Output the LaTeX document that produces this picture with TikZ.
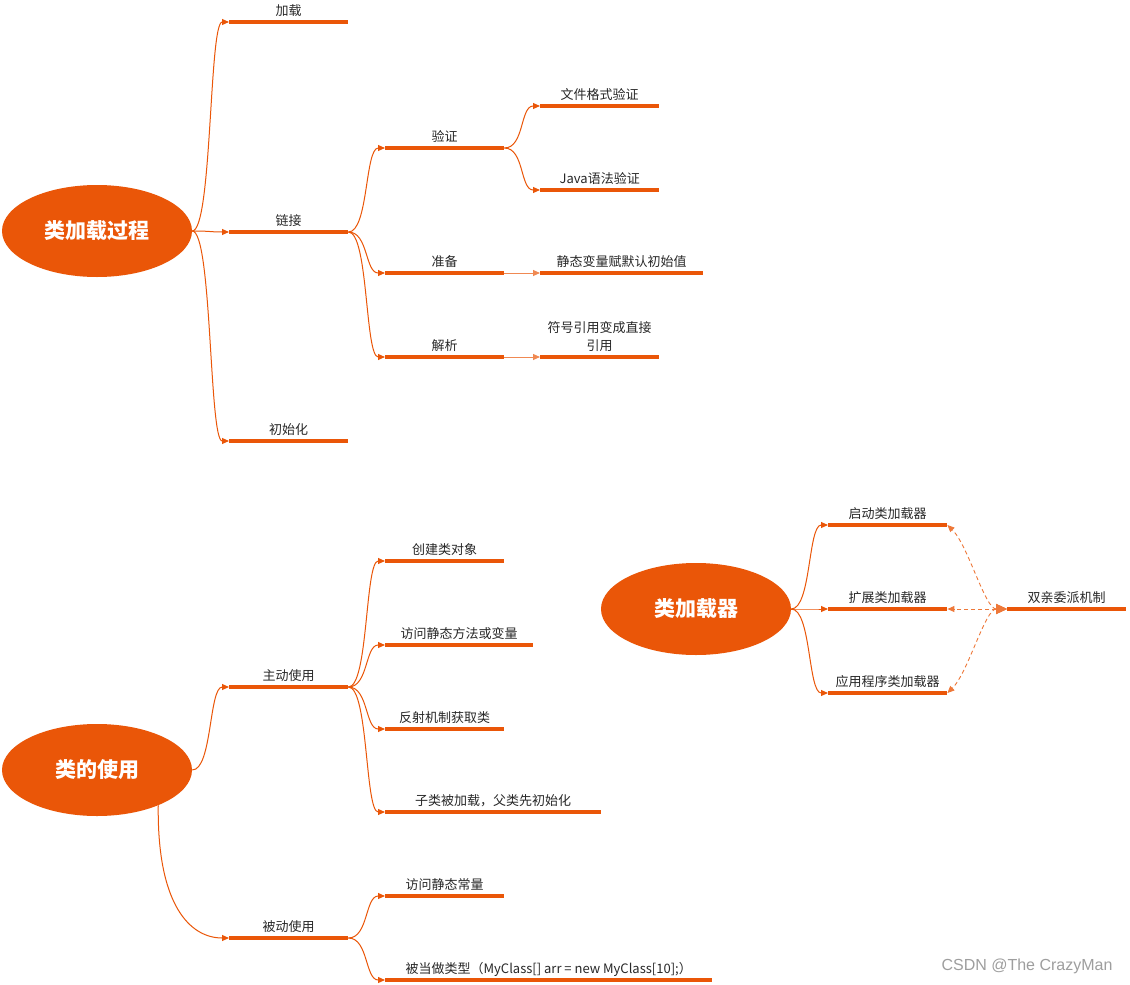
\documentclass[tikz,border=0pt]{standalone}
\usepackage{fontspec}
\setmainfont{Noto Sans CJK SC}
\newfontfamily\wmfont{Liberation Sans}
\usetikzlibrary{arrows.meta,shapes.geometric}
\definecolor{org}{RGB}{234,86,8}
\definecolor{txt}{RGB}{40,40,40}
\tikzset{
  root/.style={ellipse, fill=org, draw=none, minimum width=190pt, minimum height=92pt,
    inner sep=0pt, text=white, font=\fontsize{21}{24}\selectfont\bfseries},
  uline/.style={draw=org, line width=3.5pt},
  br/.style={minimum width=#1, inner xsep=0pt, inner ysep=3pt, anchor=south west,
    text height=10pt, text depth=3pt, text=txt, font=\fontsize{13}{18}\selectfont,
    append after command={(\tikzlastnode.south west) edge[uline] (\tikzlastnode.south east)}},
  br/.default=119pt,
  conn/.style={draw=org, line width=1pt, -{Triangle[length=7pt,width=6pt]},
    out=0, in=180, distance=20pt},
  sconn/.style={draw=org!70, line width=1pt, -{Triangle[length=7pt,width=6pt]}},
  dconn/.style={draw=org!80, line width=0.9pt, dash pattern=on 4pt off 3pt,
    {Triangle[length=11pt,width=10pt]}-{Triangle[length=7pt,width=6pt]}},
}
\begin{document}
\begin{tikzpicture}[x=1pt,y=-1pt]
\useasboundingbox (0,0) rectangle (1130,985);
\fill[white] (0,0) rectangle (1130,985);

% ---------- tree 1 ----------
\node[root] (r1) at (97,231) {类加载过程};
\node[br] (jz) at (229,22) {加载};
\node[br] (lj) at (229,232) {链接};
\node[br] (csh) at (229,441) {初始化};
\node[br] (yz) at (385,148) {验证};
\node[br] (zb) at (385,273) {准备};
\node[br] (jx) at (385,357) {解析};
\node[br] (wj) at (540,106) {文件格式验证};
\node[br] (jv) at (540,190) {Java语法验证};
\node[br=163pt] (jt) at (540,273) {静态变量赋默认初始值};
\node[br, align=center] (fh) at (540,357) {符号引用变成直接\\引用};

\draw[conn] (r1.east) to (jz.south west);
\draw[conn] (r1.east) to (lj.south west);
\draw[conn] (r1.east) to (csh.south west);
\draw[conn] (lj.south east) to (yz.south west);
\draw[conn] (lj.south east) to (zb.south west);
\draw[conn] (lj.south east) to (jx.south west);
\draw[conn] (yz.south east) to (wj.south west);
\draw[conn] (yz.south east) to (jv.south west);
\draw[sconn] (zb.south east) -- (jt.south west);
\draw[sconn] (jx.south east) -- (fh.south west);

% ---------- tree 2 ----------
\node[root] (r2) at (97,770) {类的使用};
\node[br] (zd) at (229,687) {主动使用};
\node[br] (bd) at (229,938) {被动使用};
\node[br] (cj) at (385,561) {创建类对象};
\node[br=148pt] (fw) at (385,645) {访问静态方法或变量};
\node[br] (fs) at (385,729) {反射机制获取类};
\node[br=216pt] (zl) at (385,812) {子类被加载，父类先初始化};
\node[br] (cl) at (385,896) {访问静态常量};
\node[br=327pt] (lx) at (385,980) {被当做类型（MyClass[] arr = new MyClass[10];）};

\draw[conn] (r2.east) to (zd.south west);
\draw[conn] (r2.-30) .. controls (157,905) and (190,938) .. (bd.south west);
\draw[conn] (zd.south east) to (cj.south west);
\draw[conn] (zd.south east) to (fw.south west);
\draw[conn] (zd.south east) to (fs.south west);
\draw[conn] (zd.south east) to (zl.south west);
\draw[conn] (bd.south east) to (cl.south west);
\draw[conn] (bd.south east) to (lx.south west);

% ---------- tree 3 ----------
\node[root] (r3) at (696,609) {类加载器};
\node[br] (qd) at (828,525) {启动类加载器};
\node[br] (kz) at (828,609) {扩展类加载器};
\node[br] (yy) at (828,693) {应用程序类加载器};
\node[br] (sq) at (1007,609) {双亲委派机制};

\draw[conn] (r3.east) to (qd.south west);
\draw[conn] (r3.east) to (kz.south west);
\draw[conn] (r3.east) to (yy.south west);
\draw[dconn] (sq.south west) .. controls (985,609) and (968,545) .. (qd.south east);
\draw[dconn] (sq.south west) -- (kz.south east);
\draw[dconn] (sq.south west) .. controls (985,609) and (968,673) .. (yy.south east);

% watermark
\node[font=\wmfont\fontsize{16}{19}\selectfont, text=black!38, anchor=east] (wm) at (1116,966) {CSDN @The CrazyMan};
\end{tikzpicture}
\end{document}
